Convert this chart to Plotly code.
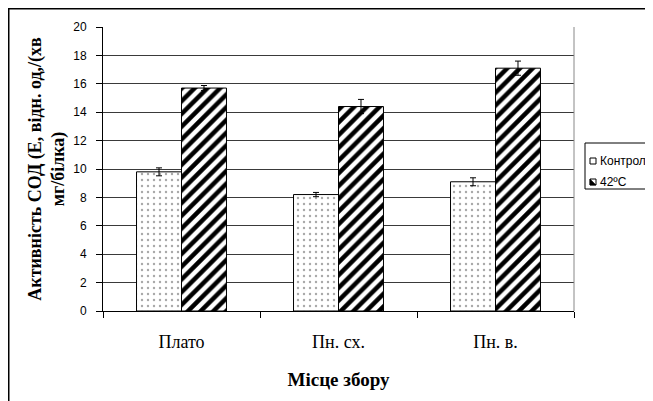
import plotly.graph_objects as go

categories = ["Плато", "Пн. сх.", "Пн. в."]
control_values = [9.8, 8.2, 9.1]
control_errors = [0.28, 0.15, 0.28]
heat_values = [15.7, 14.4, 17.1]
heat_errors = [0.18, 0.5, 0.5]
series_names = ["Контроль", "42ºC"]
y_ticks = [0, 2, 4, 6, 8, 10, 12, 14, 16, 18, 20]

fig = go.Figure()
fig.add_trace(go.Bar(
    x=categories, y=control_values, name=series_names[0],
    marker=dict(color="white", line=dict(color="black", width=1),
                pattern=dict(shape=".", fgcolor="#a8a8a8", bgcolor="white", size=6,
                             solidity=0.12, fillmode="replace", fgopacity=1)),
    error_y=dict(type="data", array=control_errors, color="black", thickness=1, width=3),
))
fig.add_trace(go.Bar(
    x=categories, y=heat_values, name=series_names[1],
    marker=dict(color="white", line=dict(color="black", width=1),
                pattern=dict(shape="/", fgcolor="#000000", bgcolor="white", size=9,
                             solidity=0.5, fillmode="replace", fgopacity=1)),
    error_y=dict(type="data", array=heat_errors, color="black", thickness=1, width=3),
))

# figure is placed 8px into the page by the body margin
W, H = 645, 393
L, R, T, B = 95, 79, 19, 90
pw, ph = W - L - R, H - T - B

def px_x(p):
    return (p - L) / pw

def px_y(p):
    return (H - B - p) / ph

# custom legend (box, swatches, labels)
lg_left, lg_top, lg_bottom = 577, 135, 181
sw_x0, sw_x1 = 582, 588
rows_y = [153, 174]

shapes = [
    dict(type="line", xref="paper", yref="paper", x0=1, x1=1, y0=0, y1=1,
         line=dict(color="#888888", width=1)),
    dict(type="rect", xref="paper", yref="paper",
         x0=px_x(0.75), x1=px_x(700), y0=px_y(450), y1=px_y(0.75),
         line=dict(color="black", width=1.5), fillcolor="rgba(0,0,0,0)", layer="below"),
    dict(type="rect", xref="paper", yref="paper",
         x0=px_x(lg_left), x1=px_x(700), y0=px_y(lg_bottom), y1=px_y(lg_top),
         line=dict(color="black", width=1), fillcolor="white"),
]
annotations = []
for i, (name, yc) in enumerate(zip(series_names, rows_y)):
    shapes.append(dict(type="rect", xref="paper", yref="paper",
                       x0=px_x(sw_x0), x1=px_x(sw_x1), y0=px_y(yc + 3), y1=px_y(yc - 3),
                       line=dict(color="black", width=1), fillcolor="white"))
    if i == 1:
        path = "M {} {} L {} {} L {} {} Z".format(
            px_x(sw_x0), px_y(yc + 3), px_x(sw_x0), px_y(yc - 3), px_x(sw_x1), px_y(yc + 3))
        shapes.append(dict(type="path", xref="paper", yref="paper", path=path,
                           fillcolor="black", line=dict(color="black", width=0.5)))
    annotations.append(dict(xref="paper", yref="paper", x=px_x(sw_x1 + 2), y=px_y(yc),
                            xanchor="left", yanchor="middle", showarrow=False, text=name,
                            font=dict(family="Liberation Sans, Arial", size=12, color="black")))

fig.update_layout(
    width=W, height=H,
    margin=dict(l=L, r=R, t=T, b=B, pad=0, autoexpand=False),
    paper_bgcolor="white", plot_bgcolor="white",
    barmode="group", bargap=0.427, bargroupgap=0,
    showlegend=False,
    font=dict(family="Liberation Serif, Times New Roman", color="black"),
    xaxis=dict(
        showline=True, linecolor="black", linewidth=1,
        ticks="outside", ticklen=6, tickcolor="black", tickson="boundaries",
        ticklabelstandoff=14,
        tickfont=dict(family="Liberation Serif, Times New Roman", size=18, color="black"),
        title=dict(text="<b>Місце збору</b>", standoff=22,
                   font=dict(family="Liberation Serif, Times New Roman", size=19, color="black")),
        showgrid=False,
    ),
    yaxis=dict(
        range=[0, 20], tickvals=y_ticks,
        showline=True, linecolor="black", linewidth=1,
        ticks="outside", ticklen=6, tickcolor="black",
        ticklabelstandoff=7,
        showgrid=True, gridcolor="#3a3a3a", gridwidth=1,
        zeroline=False,
        tickfont=dict(family="Liberation Sans, Arial", size=12, color="black"),
        title=dict(text="<b>Активність СОД (Е, відн. од,/(хв<br>мг/білка)</b>", standoff=3,
                   font=dict(family="Liberation Serif, Times New Roman", size=18, color="black")),
    ),
    shapes=shapes,
    annotations=annotations,
)

fig.write_html("out.html")
